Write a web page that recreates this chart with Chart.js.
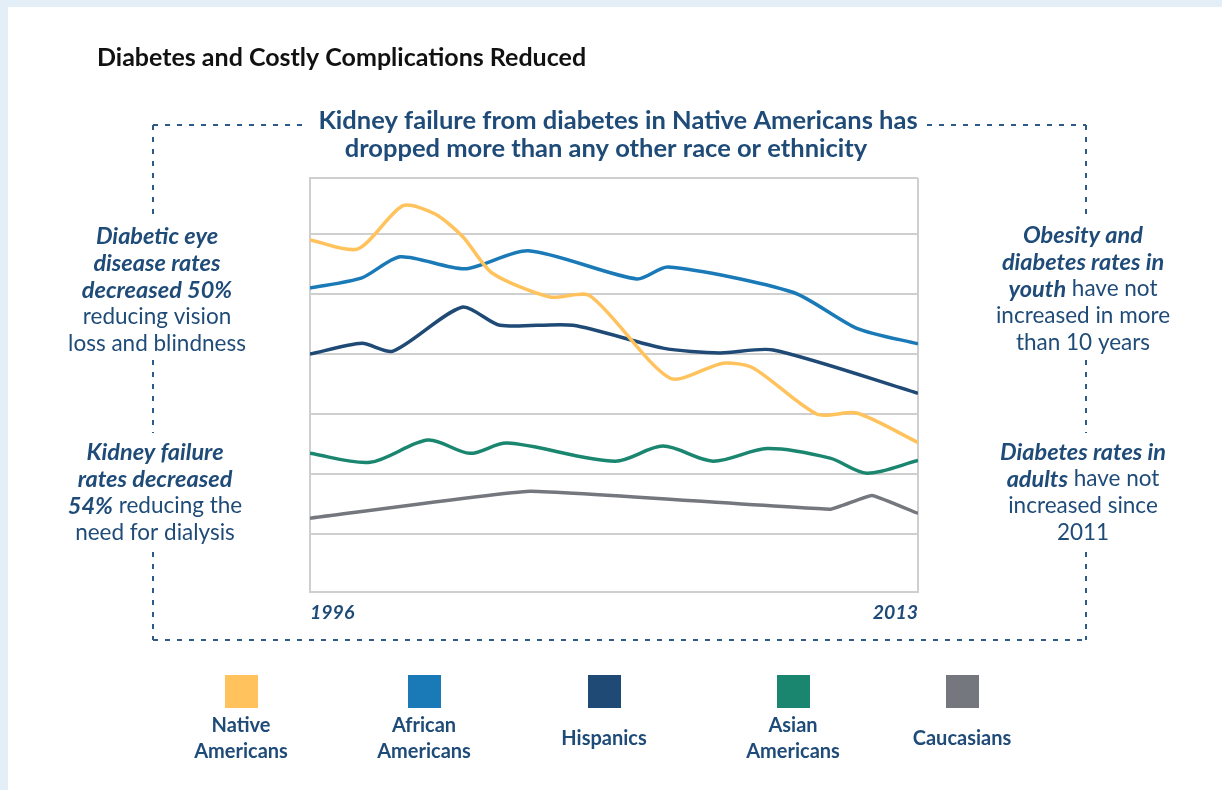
<!DOCTYPE html>
<html>
<head>
<meta charset="utf-8">
<script src="https://cdn.jsdelivr.net/npm/chart.js@4.4.0/dist/chart.umd.min.js"></script>
<style>
  html, body { margin: 0; padding: 0; background: #e3eef6; }
  #wrap { width: 1222px; height: 790px; }
</style>
</head>
<body>
<div id="wrap"><canvas id="myChart" width="1222" height="790"></canvas></div>
<script>
// tick labels on the x axis
const yearTicks = [1996, 2013];
const gridValues = [1, 2, 3, 4, 5, 6];

// series (x = year position, y = relative level)
const nativeX = [1996, 1997.34, 1998.6, 1999.5, 2000.28, 2001.09, 2002.71, 2003.83, 2006.07, 2007.55, 2008.39, 2010.18, 2011.29, 2013];
const nativeY = [5.90, 5.75, 6.47, 6.33, 5.95, 5.35, 4.95, 4.97, 3.60, 3.85, 3.77, 3.00, 3.02, 2.53];

const africanX = [1996, 1997.45, 1998.52, 2000.33, 2002.1, 2005.14, 2006.01, 2009.5, 2011.29, 2013];
const africanY = [5.10, 5.27, 5.62, 5.42, 5.72, 5.25, 5.45, 5.03, 4.43, 4.17];

const hispanicX = [1996, 1997.45, 1998.32, 2000.25, 2001.31, 2003.35, 2005.87, 2007.46, 2008.95, 2013];
const hispanicY = [4.00, 4.18, 4.05, 4.78, 4.48, 4.48, 4.10, 4.02, 4.07, 3.35];

const asianX = [1996, 1997.68, 1999.3, 2000.47, 2001.51, 2004.53, 2005.87, 2007.27, 2008.78, 2010.54, 2011.57, 2013];
const asianY = [2.35, 2.20, 2.57, 2.35, 2.52, 2.22, 2.47, 2.22, 2.43, 2.27, 2.02, 2.23];

const caucasianX = [1996, 2002.15, 2010.54, 2011.71, 2013];
const caucasianY = [1.27, 1.72, 1.42, 1.65, 1.35];

const seriesLabels = ['Native Americans', 'African Americans', 'Hispanics', 'Asian Americans', 'Caucasians'];
const seriesColors = ['#ffc25c', '#1a7ab8', '#1f4a76', '#1a866f', '#75777e'];
const seriesTension = [0.25, 0.25, 0.25, 0.3, 0.1];

const FONT = 'Lato, "Open Sans", sans-serif';
const NAVY = '#1f4b78';

function pts(xs, ys) {
    return xs.map((x, i) => ({ x: x, y: ys[i] }));
}

function segFont(bold) {
    return bold ? 'italic bold 23.5px ' + FONT : '22.5px ' + FONT;
}

function richLine(ctx, segs, cx, y) {
    var total = 0;
    segs.forEach(function (s) {
        ctx.font = segFont(s[1]);
        total += ctx.measureText(s[0]).width;
    });
    var x = cx - total / 2;
    segs.forEach(function (s) {
        ctx.font = segFont(s[1]);
        ctx.fillText(s[0], x, y);
        x += ctx.measureText(s[0]).width;
    });
}

function dashed(ctx, x1, y1, x2, y2) {
    ctx.beginPath();
    ctx.moveTo(x1, y1);
    ctx.lineTo(x2, y2);
    ctx.stroke();
}

const sideBlocks = [
    { cx: 157, y: 236, lines: [[['Diabetic eye', 1]], [['disease rates', 1]], [['decreased 50%', 1]], [['reducing vision', 0]], [['loss and blindness', 0]]] },
    { cx: 155, y: 452, lines: [[['Kidney failure', 1]], [['rates decreased', 1]], [['54%', 1], [' reducing the', 0]], [['need for dialysis', 0]]] },
    { cx: 1083, y: 235, lines: [[['Obesity and', 1]], [['diabetes rates in', 1]], [['youth', 1], [' have not', 0]], [['increased in more', 0]], [['than 10 years', 0]]] },
    { cx: 1083, y: 452, lines: [[['Diabetes rates in', 1]], [['adults', 1], [' have not', 0]], [['increased since', 0]], [['2011', 0]]] }
];

const decor = {
    id: 'decor',
    beforeDraw(chart) {
        const ctx = chart.ctx;
        ctx.save();
        ctx.fillStyle = '#e3eef6';
        ctx.fillRect(0, 0, chart.width, chart.height);
        ctx.fillStyle = '#ffffff';
        ctx.fillRect(8, 7, chart.width - 8, chart.height - 7);
        ctx.restore();
    },
    afterDraw(chart) {
        const ctx = chart.ctx;
        ctx.save();
        ctx.textBaseline = 'middle';

        // title
        ctx.fillStyle = '#111111';
        ctx.textAlign = 'left';
        ctx.font = 'bold 25px ' + FONT;
        ctx.fillText('Diabetes and Costly Complications Reduced', 97, 58);

        // subtitle
        ctx.fillStyle = NAVY;
        ctx.textAlign = 'center';
        ctx.font = 'bold 25.5px ' + FONT;
        ctx.fillText('Kidney failure from diabetes in Native Americans has', 618, 121);
        ctx.fillText('dropped more than any other race or ethnicity', 606, 149);

        // dashed frame
        ctx.strokeStyle = '#2e5a87';
        ctx.lineWidth = 2;
        ctx.setLineDash([5, 7]);
        dashed(ctx, 153, 125, 308, 125);
        dashed(ctx, 927, 125, 1086, 125);
        dashed(ctx, 153, 640, 1086, 640);
        [153, 1086].forEach(function (x) {
            dashed(ctx, x, 125, x, 215);
            dashed(ctx, x, 360, x, 433);
            dashed(ctx, x, 552, x, 640);
        });
        ctx.setLineDash([]);

        // side notes
        ctx.textAlign = 'left';
        ctx.fillStyle = NAVY;
        sideBlocks.forEach(function (b) {
            b.lines.forEach(function (segs, i) {
                richLine(ctx, segs, b.cx, b.y + i * 27);
            });
        });

        // legend
        const centers = [241, 424, 604, 793, 962];
        ctx.textAlign = 'center';
        ctx.font = 'bold 20px ' + FONT;
        chart.data.datasets.forEach(function (ds, i) {
            const cx = centers[i];
            ctx.fillStyle = ds.borderColor;
            ctx.fillRect(cx - 16, 675, 33, 33);
            ctx.fillStyle = NAVY;
            const words = ds.label.split(' ');
            if (words.length > 1) {
                ctx.fillText(words[0], cx, 726);
                ctx.fillText(words.slice(1).join(' '), cx, 752);
            } else {
                ctx.fillText(words[0], cx, 739);
            }
        });
        ctx.restore();
    }
};

const allX = [nativeX, africanX, hispanicX, asianX, caucasianX];
const allY = [nativeY, africanY, hispanicY, asianY, caucasianY];

const ctx = document.getElementById('myChart').getContext('2d');
const chart = new Chart(ctx, {
    type: 'line',
    data: {
        datasets: seriesLabels.map(function (label, i) {
            return {
                label: label,
                data: pts(allX[i], allY[i]),
                borderColor: seriesColors[i],
                backgroundColor: seriesColors[i],
                borderWidth: 3.5,
                pointRadius: 0,
                tension: seriesTension[i],
                fill: false
            };
        })
    },
    plugins: [decor],
    options: {
        responsive: false,
        animation: false,
        layout: {
            padding: { left: 310, right: 304, top: 178, bottom: 157 }
        },
        plugins: {
            legend: { display: false },
            tooltip: { enabled: false }
        },
        scales: {
            x: {
                type: 'linear',
                min: yearTicks[0],
                max: yearTicks[yearTicks.length - 1],
                afterBuildTicks: function (axis) {
                    axis.ticks = yearTicks.map(function (v) { return { value: v }; });
                },
                grid: { color: '#cfcfcf', lineWidth: 2, drawTicks: false },
                border: { color: '#cfcfcf', width: 2 },
                ticks: {
                    align: 'inner',
                    padding: 9,
                    color: NAVY,
                    font: { family: FONT, size: 19.5, weight: 'bold', style: 'italic' },
                    callback: function (v) { return String(v); }
                }
            },
            y: {
                type: 'linear',
                min: 0.05,
                max: 6.93,
                afterBuildTicks: function (axis) {
                    axis.ticks = [0.05].concat(gridValues, [6.93]).map(function (v) { return { value: v }; });
                },
                grid: { color: '#cfcfcf', lineWidth: 2, drawTicks: false },
                border: { color: '#cfcfcf', width: 2 },
                ticks: { display: false }
            }
        }
    }
});
</script>
</body>
</html>
